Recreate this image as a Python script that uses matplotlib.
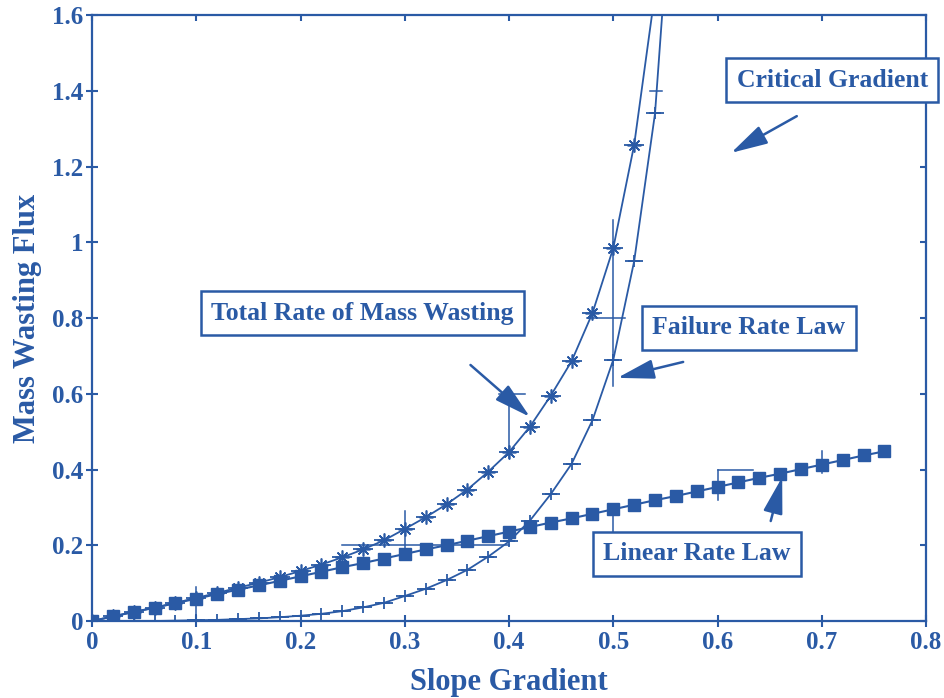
import numpy as np
import matplotlib
matplotlib.use('Agg')
import matplotlib.pyplot as plt

# 色とフォント
blue = '#2a5aa5'
plt.rcParams['font.family'] = ['Liberation Serif', 'DejaVu Serif']
plt.rcParams['font.weight'] = 'bold'

# 勾配 (0.02 刻み)
slope = [0.00, 0.02, 0.04, 0.06, 0.08, 0.10, 0.12, 0.14, 0.16, 0.18,
         0.20, 0.22, 0.24, 0.26, 0.28, 0.30, 0.32, 0.34, 0.36, 0.38,
         0.40, 0.42, 0.44, 0.46, 0.48, 0.50, 0.52, 0.54, 0.56, 0.58,
         0.60, 0.62, 0.64, 0.66, 0.68, 0.70, 0.72, 0.74, 0.76]

# Linear Rate Law
linear_flux = [0.000, 0.012, 0.024, 0.035, 0.047, 0.059, 0.071, 0.083, 0.094, 0.106,
               0.118, 0.130, 0.142, 0.153, 0.165, 0.177, 0.189, 0.200, 0.212, 0.224,
               0.236, 0.248, 0.260, 0.271, 0.283, 0.295, 0.307, 0.319, 0.330, 0.342,
               0.354, 0.366, 0.378, 0.389, 0.401, 0.413, 0.425, 0.437, 0.448]

# Failure Rate Law
failure_slope = slope[:29]
failure_flux = [0.000, 0.000, 0.000, 0.000, 0.001, 0.002, 0.003, 0.005, 0.007, 0.010,
                0.014, 0.019, 0.026, 0.036, 0.048, 0.066, 0.085, 0.108, 0.135, 0.170,
                0.210, 0.265, 0.335, 0.415, 0.530, 0.690, 0.950, 1.340, 2.100]

# Total Rate of Mass Wasting
total_slope = slope[:28]
total_flux = [0.000, 0.012, 0.024, 0.035, 0.048, 0.061, 0.074, 0.088, 0.101, 0.116,
              0.132, 0.149, 0.168, 0.189, 0.213, 0.243, 0.274, 0.308, 0.347, 0.394,
              0.446, 0.513, 0.595, 0.686, 0.813, 0.985, 1.257, 1.659]

xticks = [0, 0.1, 0.2, 0.3, 0.4, 0.5, 0.6, 0.7, 0.8]
xlabels = ['0', '0.1', '0.2', '0.3', '0.4', '0.5', '0.6', '0.7', '0.8']
yticks = [0, 0.2, 0.4, 0.6, 0.8, 1.0, 1.2, 1.4, 1.6]
ylabels = ['0', '0.2', '0.4', '0.6', '0.8', '1', '1.2', '1.4', '1.6']

fig = plt.figure(figsize=(9.44, 6.98), dpi=100)
ax = fig.add_axes([0.0975, 0.1103, 0.8835, 0.8682])

# 曲線
ax.plot(slope, linear_flux, color=blue, linewidth=1.5, marker='s', markersize=9,
        markerfacecolor=blue, markeredgecolor=blue)
ax.plot(failure_slope, failure_flux, color=blue, linewidth=1.3, marker='+',
        markersize=9, markeredgewidth=1.3)
ax.plot(failure_slope, failure_flux, linestyle='none', marker='_',
        markersize=13, markeredgewidth=1.3, color=blue)
ax.plot(total_slope, total_flux, color=blue, linewidth=1.3, marker=(8, 2, 0),
        markersize=10, markeredgewidth=1.2)
ax.plot(total_slope, total_flux, linestyle='none', marker='_',
        markersize=14, markeredgewidth=1.3, color=blue)

# スキャンで残ったグリッド線の断片
grid_bits = [
    ([0.3, 0.3], [0.18, 0.29]), ([0.24, 0.40], [0.2, 0.2]),
    ([0.4, 0.4], [0.43, 0.60]), ([0.39, 0.415], [0.6, 0.6]),
    ([0.5, 0.5], [0.62, 1.06]), ([0.475, 0.511], [0.8, 0.8]),
    ([0.5, 0.5], [0.23, 0.30]),
    ([0.6, 0.6], [0.32, 0.40]), ([0.6, 0.634], [0.4, 0.4]),
    ([0.7, 0.7], [0.39, 0.45]),
    ([0.1, 0.1], [0.003, 0.09]),
    ([0.535, 0.547], [1.4, 1.4]),
]
for gx, gy in grid_bits:
    ax.plot(gx, gy, color=blue, linewidth=1.1)

ax.set_xlim(0, 0.8)
ax.set_ylim(0, 1.6)
ax.set_xticks(xticks)
ax.set_xticklabels(xlabels)
ax.set_yticks(yticks)
ax.set_yticklabels(ylabels)

for sp in ax.spines.values():
    sp.set_color(blue)
    sp.set_linewidth(1.6)

ax.tick_params(axis='both', which='both', direction='inout', length=9, width=1.5,
               colors=blue, labelsize=18)
ax.tick_params(axis='x', pad=3)
ax.tick_params(axis='y', pad=2)
for lab in ax.get_xticklabels() + ax.get_yticklabels():
    lab.set_fontweight('bold')

# 上と右の短い目盛り
top = ax.secondary_xaxis('top')
top.set_xticks(xticks)
top.tick_params(direction='in', length=4, width=1.5, colors=blue, labeltop=False)
top.spines['top'].set_visible(False)
right = ax.secondary_yaxis('right')
right.set_yticks(yticks)
right.tick_params(direction='in', length=4, width=1.5, colors=blue, labelright=False)
right.spines['right'].set_visible(False)

ax.set_xlabel('Slope Gradient', fontsize=22, fontweight='bold', color=blue, labelpad=10)
ax.set_ylabel('Mass Wasting Flux', fontsize=22, fontweight='bold', color=blue, labelpad=7)

# 注釈の箱
box = dict(boxstyle='square,pad=0.4', facecolor='white', edgecolor=blue, linewidth=1.8)
ax.text(0.710, 1.428, 'Critical Gradient', fontsize=18.5, fontweight='bold', color=blue,
        ha='center', va='center', bbox=box, clip_on=False, zorder=5)
ax.text(0.259, 0.813, 'Total Rate of Mass Wasting', fontsize=18.5, fontweight='bold',
        color=blue, ha='center', va='center', bbox=box, zorder=5)
ax.text(0.630, 0.774, 'Failure Rate Law', fontsize=18.5, fontweight='bold', color=blue,
        ha='center', va='center', bbox=box, zorder=5)
ax.text(0.580, 0.177, 'Linear Rate Law', fontsize=18.5, fontweight='bold', color=blue,
        ha='center', va='center', bbox=box, zorder=5)

# 矢印
arrow = dict(arrowstyle='-|>,head_length=1.5,head_width=0.4', color=blue,
             linewidth=1.8, shrinkA=0, shrinkB=0, mutation_scale=15)
ax.annotate('', xy=(0.613, 1.236), xytext=(0.676, 1.333), arrowprops=arrow)
ax.annotate('', xy=(0.420, 0.539), xytext=(0.363, 0.676), arrowprops=arrow)
ax.annotate('', xy=(0.504, 0.642), xytext=(0.567, 0.684), arrowprops=arrow)
ax.annotate('', xy=(0.662, 0.380), xytext=(0.651, 0.264), arrowprops=arrow)

fig.savefig('out.png', dpi=100)
